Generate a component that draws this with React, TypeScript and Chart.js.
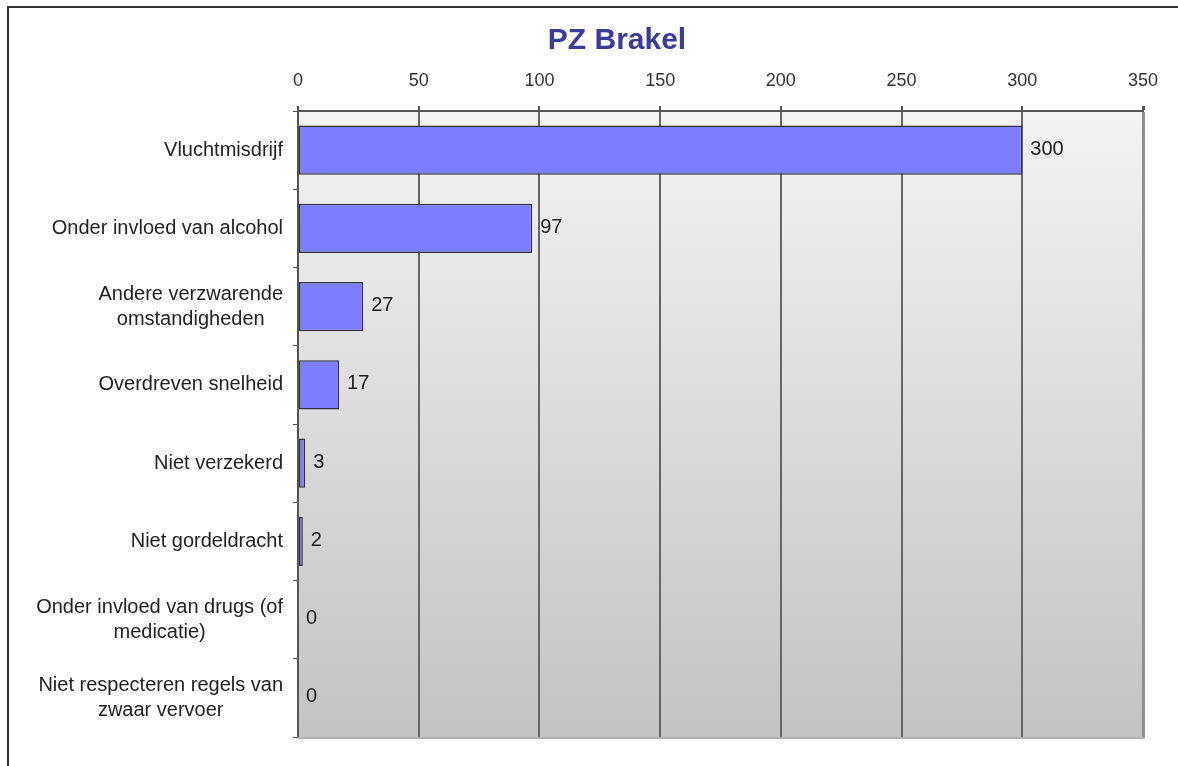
import React, { useEffect, useRef } from "react";
import { Chart, registerables } from "chart.js";

Chart.register(...registerables);

const TITLE = "PZ Brakel";
const categories: string[][] = [
  ["Vluchtmisdrijf"],
  ["Onder invloed van alcohol"],
  ["Andere verzwarende", "omstandigheden"],
  ["Overdreven snelheid"],
  ["Niet verzekerd"],
  ["Niet gordeldracht"],
  ["Onder invloed van drugs (of", "medicatie)"],
  ["Niet respecteren regels van", "zwaar vervoer"],
];
const values: number[] = [300, 97, 27, 17, 3, 2, 0, 0];
const xMin = 0;
const xMax = 350;
const xStep = 50;

const FONT = "'Liberation Sans', Arial, Helvetica, sans-serif";

const bgPlugin = {
  id: "bgGradient",
  beforeDraw(chart: any) {
    const { ctx, chartArea } = chart;
    if (!chartArea) return;
    const g = ctx.createLinearGradient(0, chartArea.top, 0, chartArea.bottom);
    g.addColorStop(0, "#f3f3f3");
    g.addColorStop(1, "#c3c3c3");
    ctx.save();
    ctx.fillStyle = g;
    ctx.fillRect(chartArea.left, chartArea.top, chartArea.right - chartArea.left, chartArea.bottom - chartArea.top);
    ctx.restore();
  },
  afterDraw(chart: any) {
    const { ctx, chartArea } = chart;
    ctx.save();
    ctx.strokeStyle = "#b0b0b0";
    ctx.lineWidth = 2;
    ctx.beginPath();
    ctx.moveTo(chartArea.left, chartArea.bottom + 1);
    ctx.lineTo(chartArea.right + 2, chartArea.bottom + 1);
    ctx.stroke();
    ctx.fillStyle = "#3b3b9c";
    ctx.font = `bold 30px ${FONT}`;
    ctx.textAlign = "center";
    ctx.textBaseline = "middle";
    ctx.fillText(TITLE, 617, 41);

    // category labels: block right-aligned to the axis, lines centred within the block
    const yScale = chart.scales.y;
    ctx.fillStyle = "#222";
    ctx.font = `20px ${FONT}`;
    ctx.textBaseline = "middle";
    const rightEdge = chartArea.left - 15;
    const lh = 25;
    categories.forEach((lines, i) => {
      const cy = yScale.getPixelForValue(i);
      const maxW = Math.max(...lines.map((l) => ctx.measureText(l).width));
      const cx = rightEdge - maxW / 2;
      const y0 = cy - ((lines.length - 1) * lh) / 2;
      lines.forEach((l, k) => {
        ctx.textAlign = "center";
        ctx.fillText(l, cx, y0 + k * lh);
      });
    });
    ctx.restore();
  },
};

const labelPlugin = {
  id: "valueLabels",
  afterDatasetsDraw(chart: any) {
    const { ctx } = chart;
    const meta = chart.getDatasetMeta(0);
    ctx.save();
    ctx.fillStyle = "#222";
    ctx.font = `20px ${FONT}`;
    ctx.textAlign = "left";
    ctx.textBaseline = "middle";
    meta.data.forEach((bar: any, i: number) => {
      ctx.fillText(String(values[i]), bar.x + 8, bar.y - 1);
    });
    ctx.restore();
  },
};

export default function App() {
  const ref = useRef<HTMLCanvasElement>(null);
  useEffect(() => {
    document.body.style.overflow = "hidden";
    const chart = new Chart(ref.current!, {
      type: "bar",
      data: {
        labels: categories.map((c) => c.join(" ")),
        datasets: [
          {
            data: values,
            backgroundColor: "#7d7dff",
            borderColor: "#333340",
            borderWidth: 1.5,
            borderSkipped: false,
            categoryPercentage: 1,
            barPercentage: 0.63,
          },
        ],
      },
      options: {
        indexAxis: "y",
        animation: false,
        responsive: false,
        layout: { padding: { left: 0, top: 0, right: 35, bottom: 29 } },
        plugins: { legend: { display: false }, tooltip: { enabled: false }, title: { display: false } },
        scales: {
          x: {
            position: "top",
            min: xMin,
            max: xMax,
            ticks: { stepSize: xStep, color: "#333", font: { family: FONT, size: 18 }, padding: 14 },
            grid: {
              color: (c: any) => (c.tick && c.tick.value === xMax ? "#8e8e8e" : "#666"),
              lineWidth: (c: any) => (c.tick && c.tick.value === xMax ? 3 : 2),
              tickLength: 5,
              tickColor: "#555",
            },
            border: { display: true, color: "#555", width: 2 },
            afterFit: (s: any) => {
              s.height = 111;
            },
          },
          y: {
            ticks: { display: false },
            grid: { drawOnChartArea: false, drawTicks: true, tickLength: 5, color: "#555", offset: true },
            border: { display: true, color: "#555", width: 2 },
            afterFit: (s: any) => {
              s.width = 298;
            },
          },
        },
      },
      plugins: [bgPlugin, labelPlugin],
    } as any);
    return () => chart.destroy();
  }, []);
  return (
    <>
      <div
        style={{
          position: "fixed",
          left: 7,
          top: 6,
          width: 1400,
          height: 1000,
          borderTop: "2px solid #333",
          borderLeft: "2px solid #333",
        }}
      />
      <canvas
        ref={ref}
        width={1178}
        height={766}
        style={{ position: "fixed", left: 0, top: 0, width: 1178, height: 766 }}
      />
    </>
  );
}
